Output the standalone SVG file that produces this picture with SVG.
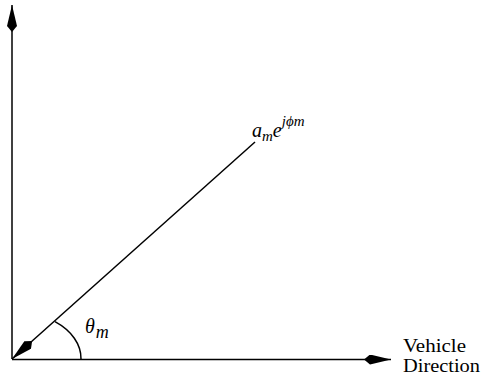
<svg xmlns="http://www.w3.org/2000/svg" width="482" height="385" viewBox="0 0 482 385">
<style>
  .ax { stroke: #000; stroke-width: 1.5; fill: none; }
  .lbl { font-family: "Liberation Serif", "Times New Roman", serif; fill: #000; }
  .it { font-style: italic; }
</style>
<defs>
  <marker id="kite" viewBox="-28 -5 29 10" markerWidth="29" markerHeight="10" refX="0" refY="0" orient="auto" markerUnits="userSpaceOnUse">
    <path d="M0,0 L-21,-5 L-27,0 L-21,5 Z" fill="#000"/>
  </marker>
</defs>
<rect width="482" height="385" fill="#fff"/>
<g id="connectors">
  <line id="y-axis" class="ax" x1="12" y1="359" x2="12" y2="5" marker-end="url(#kite)"/>
  <line id="x-axis" class="ax" x1="12" y1="359.5" x2="391" y2="359.5" stroke-width="2" stroke="#333" marker-end="url(#kite)"/>
  <line id="vector" class="ax" x1="255" y1="142" x2="12" y2="359" stroke-width="1.3" marker-end="url(#kite)"/>
  <path id="angle-arc" class="ax" stroke-width="1.3" d="M55,321.7 A69 47 0 0 1 81 359"/>
</g>
<g id="vector-label">
  <text class="lbl it" x="252" y="137" font-size="20">a<tspan font-size="15" dy="3.5">m</tspan><tspan font-size="20" dy="-3.5">e</tspan><tspan font-size="15" dy="-11">jϕm</tspan></text>
</g>
<g id="angle-label">
  <text class="lbl it" x="85" y="333" font-size="20">θ<tspan font-size="18" dy="5" dx="1">m</tspan></text>
</g>
<g id="direction-label">
  <text class="lbl" x="403" y="352" font-size="18" textLength="63" lengthAdjust="spacingAndGlyphs">Vehicle</text>
  <text class="lbl" x="403" y="372" font-size="18" textLength="77" lengthAdjust="spacingAndGlyphs">Direction</text>
</g>
</svg>
